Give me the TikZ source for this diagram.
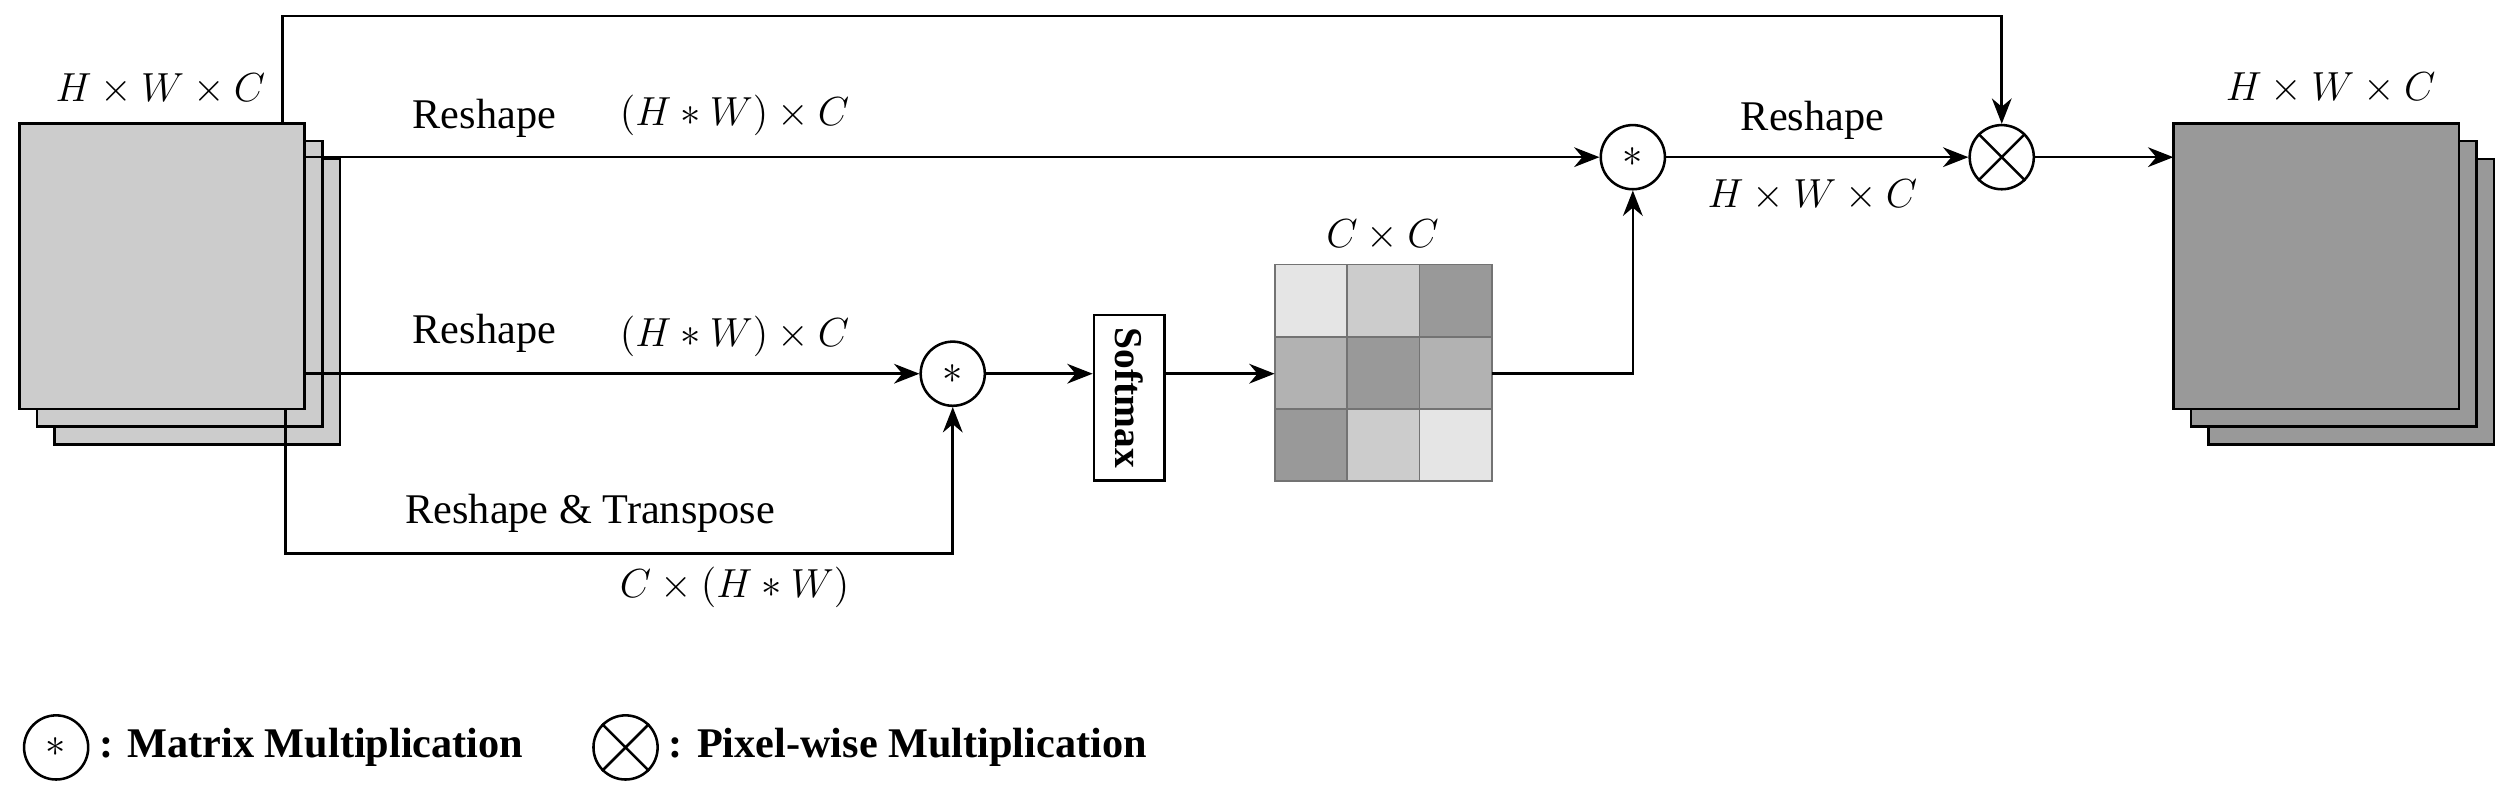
\documentclass[tikz,border=0pt]{standalone}
\usepackage{fontspec}
\setmainfont{Liberation Serif}
\usetikzlibrary{arrows.meta}
\begin{document}
\begin{tikzpicture}[x=0.02cm,y=-0.02cm,
  every node/.style={font=\fontsize{15}{18}\selectfont},
  arr/.style={-{Stealth[length=9pt,width=7pt]},line width=0.9pt},
  ln/.style={line width=0.9pt},
  op/.style={circle,draw,line width=0.9pt,minimum size=40*0.02cm,inner sep=0pt},
  sq/.style={draw,line width=0.9pt},
  cell/.style={draw=black!55,line width=0.6pt}]
\useasboundingbox (0,0) rectangle (1568,499);
% left stack
\draw[sq,fill=black!20] (34,99) rectangle (212,277);
\draw[sq,fill=black!20] (23,88) rectangle (201,266);
\draw[sq,fill=black!20] (12,77) rectangle (190,255);
\node at (100,56) {$H\times W\times C$};
% right stack
\draw[sq,fill=black!40] (1377,99) rectangle (1555,277);
\draw[sq,fill=black!40] (1366,88) rectangle (1544,266);
\draw[sq,fill=black!40] (1355,77) rectangle (1533,255);
\node at (1453,55) {$H\times W\times C$};
\coordinate (outin) at (1355,98);
% operators
\node[op] (m1) at (1018,98) {$*$};
\node[op] (m2) at (594,233) {$*$};
\node[op] (px) at (1248,98) {};
\draw[ln] (px.north east) -- (px.south west) (px.north west) -- (px.south east);
% softmax
\node[draw,line width=0.9pt,minimum width=44*0.02cm,minimum height=103*0.02cm,inner sep=0pt] (sm) at (704,248) {};
\node[rotate=-90,font=\fontsize{14}{16}\selectfont\bfseries] at (sm) {Softmax};
% matrix
\foreach \r/\c/\col in {0/0/10,0/1/20,0/2/40,1/0/30,1/1/40,1/2/30,2/0/40,2/1/20,2/2/10}
  \draw[cell,fill=black!\col] (795+45*\c,165+45*\r) rectangle ++(45,45);
\node[draw=none,minimum size=135*0.02cm,inner sep=0pt] (mat) at (862.5,232.5) {};
\node at (862,147) {$C\times C$};
% connectors
\coordinate (a1) at (190,98);
\coordinate (a2) at (190,233);
\coordinate (t1) at (176,77);
\draw[arr] (t1) -- (176,10) -- (px.north |- 0,10) -- (px.north);
\draw[arr] (a1) -- (m1.west);
\draw[arr] (a2) -- (m2.west);
\draw[arr] (178,255) -- (178,345) -- (m2.south |- 0,345) -- (m2.south);
\draw[arr] (m2.east) -- (sm.west |- m2);
\draw[arr] (sm.east |- m2) -- (mat.west |- m2);
\draw[arr] (mat.east |- m2) -- (m1.south |- m2) -- (m1.south);
\draw[arr] (m1.east) -- (px.west);
\draw[arr] (px.east) -- (outin);
% labels
\node at (302,74) {Reshape};
\node at (458,72) {$(H*W)\times C$};
\node at (302,208) {Reshape};
\node at (458,210) {$(H*W)\times C$};
\node at (368,320) {Reshape \& Transpose};
\node at (458,366) {$C\times(H*W)$};
\node at (1130,75) {Reshape};
\node at (1130,122) {$H\times W\times C$};
% legend
\node[op] (lg1) at (35,466) {$*$};
\node[anchor=west,font=\fontsize{15}{18}\selectfont\bfseries] at (lg1.east) {: Matrix Multiplication};
\node[op] (lg2) at (390,466) {};
\draw[ln] (lg2.north east) -- (lg2.south west) (lg2.north west) -- (lg2.south east);
\node[anchor=west,font=\fontsize{15}{18}\selectfont\bfseries] at (lg2.east) {: Pixel-wise Multiplication};
\end{tikzpicture}
\end{document}
